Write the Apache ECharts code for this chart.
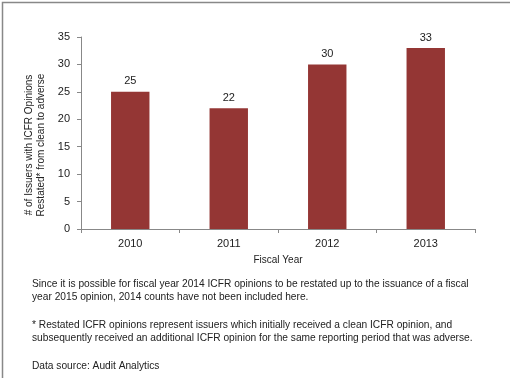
<!DOCTYPE html>
<html><head><meta charset="utf-8">
<script src="https://cdn.jsdelivr.net/npm/echarts@6/dist/echarts.min.js"></script>
<style>html,body{margin:0;padding:0;background:#fff}#c{width:510px;height:378px;box-sizing:border-box}</style>
</head><body><div id="c"></div>
<script>
const categories = ['2010', '2011', '2012', '2013'];
const values = [25, 22, 30, 33];
const yTicks = [0, 5, 10, 15, 20, 25, 30, 35];
const yAxisTitle = '# of Issuers with ICFR Opinions\nRestated* from clean to adverse';
const xAxisTitle = 'Fiscal Year';
const noteLines = [
  'Since it is possible for fiscal year 2014 ICFR opinions to be restated up to the issuance of a fiscal',
  'year 2015 opinion, 2014 counts have not been included here.',
  '',
  '* Restated ICFR opinions represent issuers which initially received a clean ICFR opinion, and',
  'subsequently received an additional ICFR opinion for the same reporting period that was adverse.',
  '',
  'Data source: Audit Analytics'
];
const FONT = '"Liberation Sans", Arial, sans-serif';
const chart = echarts.init(document.getElementById('c'));
chart.setOption({
  animation: false,
  grid: {left: 81, right: 35, top: 37, bottom: 149},
  xAxis: {
    type: 'category', data: categories,
    name: xAxisTitle, nameLocation: 'middle', nameGap: 26,
    nameTextStyle: {color: '#222', fontSize: 10, fontFamily: FONT},
    axisLine: {lineStyle: {color: '#888'}},
    axisTick: {show: true, alignWithLabel: false, length: 4, lineStyle: {color: '#888'}},
    axisLabel: {color: '#222', fontSize: 11, fontFamily: FONT, margin: 9}
  },
  yAxis: {
    type: 'value', min: yTicks[0], max: yTicks[yTicks.length - 1], interval: 5,
    axisLine: {show: true, lineStyle: {color: '#888'}},
    axisTick: {show: true, length: 4, lineStyle: {color: '#888'}},
    splitLine: {show: false},
    axisLabel: {color: '#222', fontSize: 11, fontFamily: FONT, margin: 11}
  },
  series: [{
    type: 'bar', data: values, barWidth: '39%',
    itemStyle: {color: '#943634'},
    label: {show: true, position: 'top', distance: 5, color: '#222', fontSize: 11, fontFamily: FONT}
  }],
  graphic: [
    {type: 'rect', left: 0, top: 0, shape: {width: 509, height: 377}, style: {fill: 'none', stroke: '#888', lineWidth: 1.5}, silent: true},
    {type: 'text', x: 35, y: 145, rotation: Math.PI / 2,
      style: {text: yAxisTitle, font: '10px ' + FONT, lineHeight: 12, fill: '#222', align: 'center', verticalAlign: 'middle'}},
    {type: 'text', left: 32, top: 277, style: {text: noteLines.join('\n'), font: '10.2px ' + FONT, lineHeight: 13.7, fill: '#222'}}
  ]
});
</script></body></html>
